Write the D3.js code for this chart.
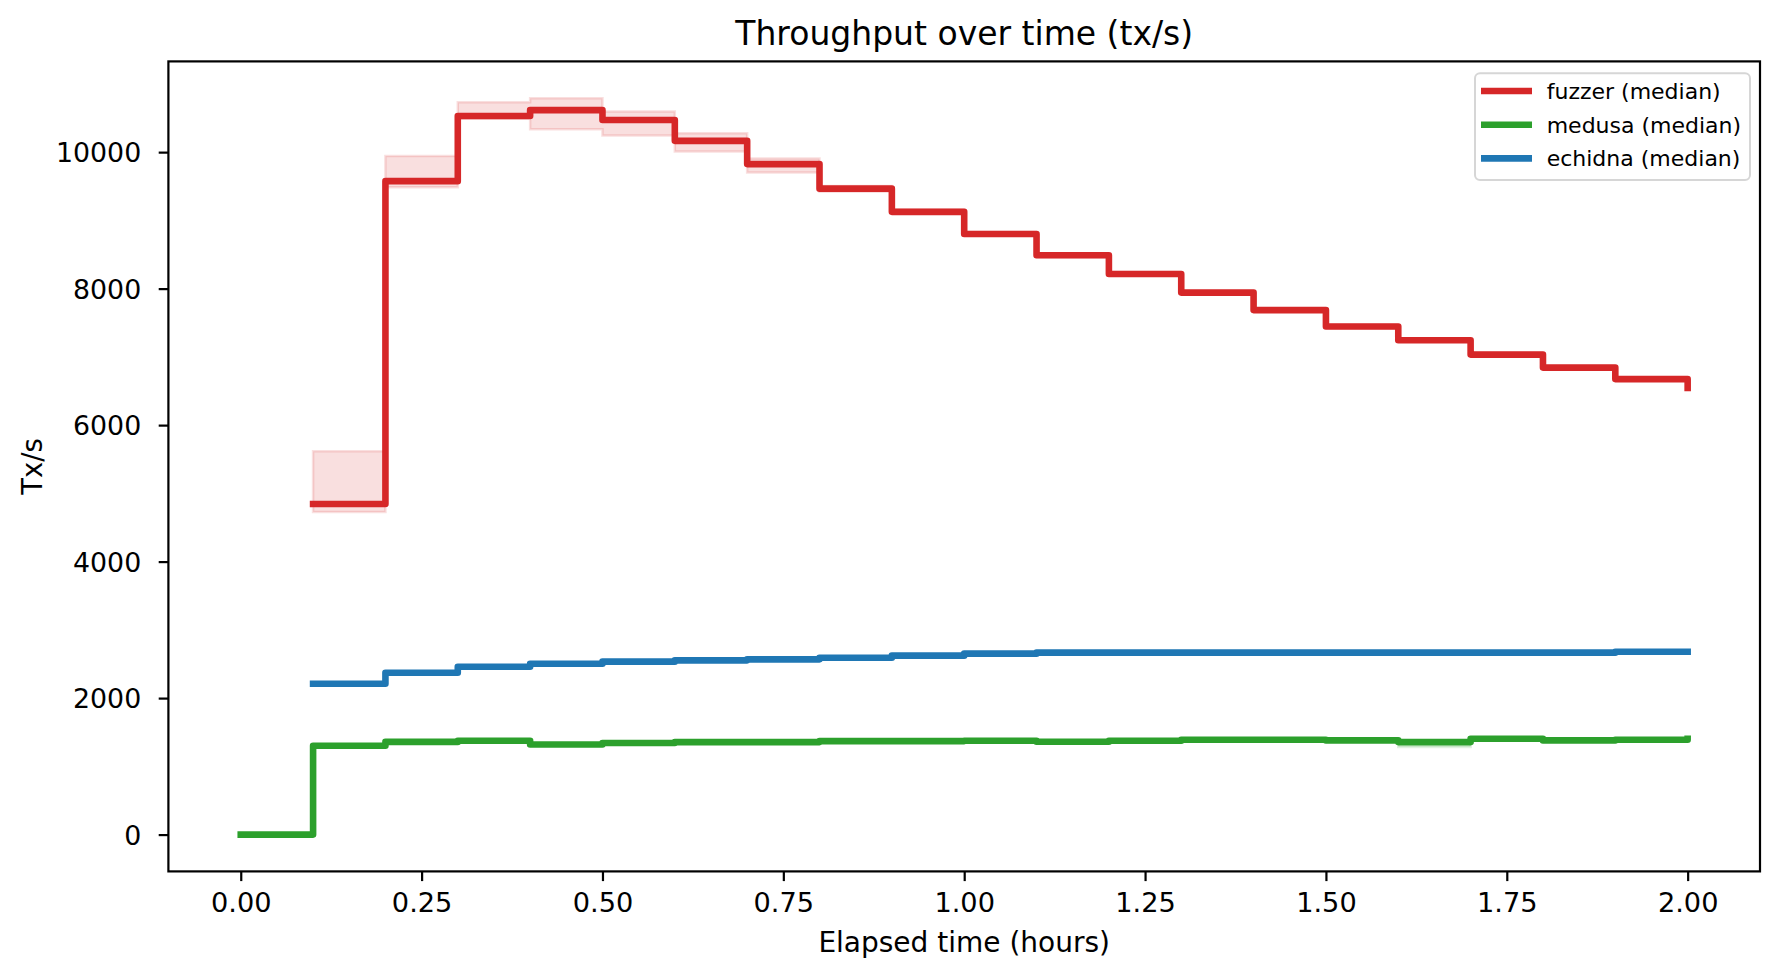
<!DOCTYPE html>
<html><head><meta charset="utf-8">
<script src="https://cdn.jsdelivr.net/npm/d3@7"></script>
<style>
body{margin:0;background:#fff}
text{font-family:"DejaVu Sans",sans-serif;fill:#000}
</style>
</head><body><svg id="c" width="1779" height="978"></svg>
<script>
// ---- data ----
const hours = [0.0,0.1,0.2,0.3,0.4,0.5,0.6,0.7,0.8,0.9,1.0,1.1,1.2,1.3,1.4,1.5,1.6,1.7,1.8,1.9,2.0];

const fuzzerMedian = [null,4845,9575,10530,10615,10470,10165,9825,9465,9125,8800,8488,8215,7942,7685,7445,7243,7033,6843,6674,6545];
const fuzzerMin    = [null,4728,9485,10490,10335,10242,10008,9700,9420,9100,8775,8460,8190,7915,7660,7420,7220,7010,6820,6650,6520];
const fuzzerMax    = [null,5617,9944,10732,10790,10594,10277,9908,9505,9160,8830,8515,8245,7965,7710,7470,7265,7060,6865,6695,6570];

const medusaMedian = [0,1302,1358,1375,1321,1342,1355,1355,1370,1370,1375,1361,1375,1390,1390,1380,1355,1405,1380,1390,1405];
const medusaMin    = [0,1285,1340,1360,1305,1325,1340,1340,1355,1355,1360,1345,1360,1375,1375,1365,1285,1390,1365,1375,1390];
const medusaMax    = [0,1318,1372,1392,1337,1358,1370,1372,1385,1385,1390,1377,1390,1405,1405,1395,1370,1420,1395,1405,1420];

const echidnaMedian = [null,2211,2372,2460,2504,2534,2553,2568,2592,2622,2651,2666,2666,2666,2666,2666,2666,2666,2666,2680,2680];
const echidnaMin    = [null,2198,2358,2447,2490,2520,2540,2555,2578,2608,2638,2652,2652,2652,2652,2652,2652,2652,2652,2666,2666];
const echidnaMax    = [null,2224,2386,2474,2518,2548,2566,2582,2606,2636,2664,2680,2680,2680,2680,2680,2680,2680,2680,2694,2694];

const seriesNames  = ["fuzzer (median)","medusa (median)","echidna (median)"];
const seriesColors = ["#d62728","#2ca02c","#1f77b4"];
const xTicks = [0,0.25,0.5,0.75,1.0,1.25,1.5,1.75,2.0];
const yTicks = [0,2000,4000,6000,8000,10000];

const titleText = "Throughput over time (tx/s)";
const xLabelText = "Elapsed time (hours)";
const yLabelText = "Tx/s";

// ---- layout ----
const W = 1779, H = 978;
const L = 168.4, R = 1760, T = 61.4, B = 871.4;

const series = [
  {name:seriesNames[0], color:seriesColors[0], med:fuzzerMedian, lo:fuzzerMin, hi:fuzzerMax},
  {name:seriesNames[1], color:seriesColors[1], med:medusaMedian, lo:medusaMin, hi:medusaMax},
  {name:seriesNames[2], color:seriesColors[2], med:echidnaMedian, lo:echidnaMin, hi:echidnaMax}
];

const xExt = d3.extent(hours);
const xPad = (xExt[1]-xExt[0])*0.05;
const allY = series.flatMap(s => [...s.lo, ...s.hi, ...s.med]).filter(v => v !== null);
const yExt = d3.extent(allY);
const yPad = (yExt[1]-yExt[0])*0.05;

const x = d3.scaleLinear().domain([xExt[0]-xPad, xExt[1]+xPad]).range([L, R]);
const y = d3.scaleLinear().domain([yExt[0]-yPad, yExt[1]+yPad]).range([B, T]);

const svg = d3.select("#c");
svg.append("rect").attr("width",W).attr("height",H).attr("fill","#fff");

svg.append("defs").append("clipPath").attr("id","clip")
  .append("rect").attr("x",L).attr("y",T).attr("width",R-L).attr("height",B-T);

const plot = svg.append("g").attr("clip-path","url(#clip)");

series.forEach(s => {
  const pts = hours.map((h,i) => ({h, m:s.med[i], lo:s.lo[i], hi:s.hi[i]}));
  const area = d3.area()
    .defined(d => d.lo !== null && d.hi !== null)
    .x(d => x(d.h)).y0(d => y(d.lo)).y1(d => y(d.hi))
    .curve(d3.curveStepAfter);
  plot.append("path").datum(pts).attr("d", area)
    .attr("fill", s.color).attr("fill-opacity", 0.15)
    .attr("stroke", s.color).attr("stroke-opacity", 0.15).attr("stroke-width", 2.5);
});

series.forEach(s => {
  const pts = hours.map((h,i) => ({h, m:s.med[i]}));
  const line = d3.line()
    .defined(d => d.m !== null)
    .x(d => x(d.h)).y(d => y(d.m))
    .curve(d3.curveStepAfter);
  plot.append("path").datum(pts).attr("d", line)
    .attr("fill","none").attr("stroke", s.color).attr("stroke-width", 6.6)
    .attr("stroke-linejoin","round").attr("stroke-linecap","square");
});

// axes
const xAxis = d3.axisBottom(x).tickValues(xTicks).tickFormat(d3.format(".2f"))
  .tickSize(9.7).tickPadding(11.4).tickSizeOuter(0);
const gx = svg.append("g").attr("transform",`translate(0,${B})`).call(xAxis);
gx.select(".domain").remove();
gx.selectAll("line").attr("stroke","#000").attr("stroke-width",2.2);
gx.selectAll("text").attr("font-size",27.2).attr("font-family","DejaVu Sans");

const yAxis = d3.axisLeft(y).tickValues(yTicks).tickFormat(d3.format("d"))
  .tickSize(9.7).tickPadding(17.5).tickSizeOuter(0);
const gy = svg.append("g").attr("transform",`translate(${L},0)`).call(yAxis);
gy.select(".domain").remove();
gy.selectAll("line").attr("stroke","#000").attr("stroke-width",2.2);
gy.selectAll("text").attr("font-size",26.8).attr("font-family","DejaVu Sans").attr("dy","0.36em");

// frame
svg.append("rect").attr("x",L).attr("y",T).attr("width",R-L).attr("height",B-T)
  .attr("fill","none").attr("stroke","#000").attr("stroke-width",2.2);

// title & labels
svg.append("text").attr("x",(L+R)/2).attr("y",45).attr("text-anchor","middle")
  .attr("font-size",33).text(titleText);
svg.append("text").attr("x",(L+R)/2).attr("y",951.5).attr("text-anchor","middle")
  .attr("font-size",28).text(xLabelText);
svg.append("text").attr("transform",`translate(41.7,${(T+B)/2}) rotate(-90)`)
  .attr("text-anchor","middle").attr("font-size",27.5).text(yLabelText);

// legend
const lg = svg.append("g");
lg.append("rect").attr("x",1475).attr("y",73.3).attr("width",275).attr("height",106.7)
  .attr("rx",5).attr("fill","#fff").attr("fill-opacity",0.8)
  .attr("stroke","#d6d6d6").attr("stroke-width",2);
series.forEach((s,i) => {
  const ly = 91 + i*33.7;
  lg.append("line").attr("x1",1481).attr("x2",1532).attr("y1",ly).attr("y2",ly)
    .attr("stroke",s.color).attr("stroke-width",6.6);
  lg.append("text").attr("x",1546.7).attr("y",ly+8).attr("font-size",22).text(s.name);
});
</script>
</body></html>
